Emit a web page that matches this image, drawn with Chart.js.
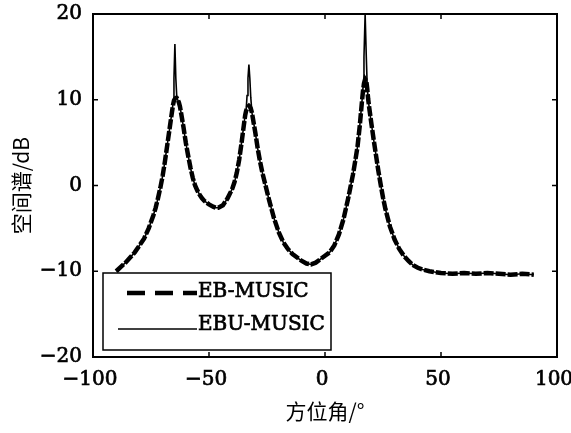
<!DOCTYPE html>
<html>
<head>
<meta charset="utf-8">
<script src="https://cdn.jsdelivr.net/npm/chart.js@4.4.1/dist/chart.umd.min.js"></script>
<style>
  html, body { margin: 0; padding: 0; background: #fff; }
  canvas { display: block; }
</style>
</head>
<body>
<canvas id="c" width="571" height="433"></canvas>
<script>
// Azimuth grid (degrees), denser around the three source directions
const angles = [
  -90, -88, -86, -84, -82, -80, -78, -76, -74, -73, -72, -71, -70, -69, -68, -67, -66,
  -65.5, -65.1, -64.7, -64.3, -63.9, -63.5, -63, -62.5, -62, -61, -60, -59, -58, -57,
  -56, -55, -54, -53, -52, -50, -48, -47, -46, -44, -42, -40, -39, -38, -37, -36, -35,
  -34.4, -34, -33.6, -33.2, -32.8, -32.4, -32, -31.5, -31, -30, -29, -28, -27, -26, -25,
  -24, -23, -22, -20, -18, -16, -14, -12, -10, -8, -6, -4, -2, 0, 2, 4, 6, 8, 10, 12,
  13, 14, 15, 15.5, 16, 16.4, 16.8, 17.3, 17.8, 18.2, 18.6, 19, 20, 21, 22, 23, 24, 25,
  26, 28, 30, 32, 34, 36, 38, 40, 42, 45, 50, 55, 60, 65, 70, 75, 80, 85, 90
];

// Spatial spectrum, EB-MUSIC (dB)
const ebMusic = [
  -10.0, -9.5, -9.0, -8.4, -7.8, -7.0, -6.2, -5.0, -3.5, -2.6, -1.5, -0.3, 1.1, 2.8, 4.7, 6.6, 8.5,
  9.4, 9.9, 10.1, 10.2, 10.2, 10.0, 9.7, 9.2, 8.4, 6.8, 5.0, 3.5, 2.1, 0.9,
  0.0, -0.6, -1.1, -1.5, -1.8, -2.2, -2.5, -2.6, -2.6, -2.3, -1.5, -0.4, 0.4, 1.5, 3.0, 4.9, 7.0,
  8.2, 8.7, 9.0, 9.2, 9.3, 9.2, 9.0, 8.5, 7.7, 6.1, 4.3, 2.8, 1.5, 0.4, -0.7,
  -1.8, -2.8, -3.8, -5.4, -6.6, -7.4, -8.0, -8.4, -8.8, -9.1, -9.2, -9.0, -8.6, -8.2, -7.8, -7.0, -5.7, -3.9, -1.5, 1.2,
  2.8, 4.5, 7.0, 8.5, 10.0, 11.1, 11.9, 12.4, 12.2, 11.3, 10.1, 9.2, 7.2, 5.3, 3.5, 1.7, 0.1, -1.4,
  -2.7, -4.8, -6.3, -7.4, -8.2, -8.8, -9.3, -9.6, -9.8, -10.0, -10.2, -10.3, -10.2, -10.3, -10.2, -10.3, -10.4, -10.3, -10.4
];

// Spatial spectrum, EBU-MUSIC (dB)
const ebuMusic = [
  -10.0, -9.5, -9.0, -8.4, -7.8, -7.0, -6.2, -5.0, -3.5, -2.6, -1.5, -0.3, 1.1, 2.8, 4.7, 6.6, 8.5,
  9.6, 12.5, 16.5, 12.5, 10.4, 10.0, 9.7, 9.2, 8.4, 6.8, 5.0, 3.5, 2.1, 0.9,
  0.0, -0.6, -1.1, -1.5, -1.8, -2.2, -2.5, -2.6, -2.6, -2.3, -1.5, -0.4, 0.4, 1.5, 3.0, 4.9, 7.0,
  8.2, 8.7, 10.5, 12.5, 14.1, 12.5, 10.3, 8.5, 7.7, 6.1, 4.3, 2.8, 1.5, 0.4, -0.7,
  -1.8, -2.8, -3.8, -5.4, -6.6, -7.4, -8.0, -8.4, -8.8, -9.1, -9.2, -9.0, -8.6, -8.2, -7.8, -7.0, -5.7, -3.9, -1.5, 1.2,
  2.8, 4.5, 7.0, 8.5, 10.0, 11.5, 15.0, 20.0, 15.0, 11.6, 10.1, 9.2, 7.2, 5.3, 3.5, 1.7, 0.1, -1.4,
  -2.7, -4.8, -6.3, -7.4, -8.2, -8.8, -9.3, -9.6, -9.8, -10.0, -10.2, -10.3, -10.2, -10.3, -10.2, -10.3, -10.4, -10.3, -10.4
];

const xTicks = [-100, -50, 0, 50, 100];
const yTicks = [-20, -10, 0, 10, 20];
const seriesNames = ['EB-MUSIC', 'EBU-MUSIC'];

const serif = "'DejaVu Serif', 'Liberation Serif', serif";
const cjk = "'Noto Sans CJK SC', 'Noto Sans', sans-serif";
const minus = v => String(v).replace('-', '\u2212');

// Box frame, inward tick marks on all four sides, and an inset legend
const boxPlugin = {
  id: 'boxFrame',
  afterDatasetsDraw(chart) {
    const { ctx, chartArea: a, scales: { x, y } } = chart;
    ctx.save();

    // legend
    const lx = a.left + 10, ly = a.bottom - 84, lw = 228, lh = 77;
    ctx.fillStyle = '#fff';
    ctx.fillRect(lx, ly, lw, lh);
    ctx.strokeStyle = '#000';
    ctx.lineWidth = 1.5;
    ctx.strokeRect(lx, ly, lw, lh);

    const ds = chart.data.datasets;
    const rows = [
      { x0: lx + 24, x1: lx + 94, y: ly + 20, ty: ly + 19, dash: [18, 10] },
      { x0: lx + 15, x1: lx + 94, y: ly + 56, ty: ly + 52, dash: [] }
    ];
    ctx.font = '20px ' + serif;
    ctx.textBaseline = 'middle';
    ctx.textAlign = 'left';
    rows.forEach((r, i) => {
      ctx.beginPath();
      ctx.setLineDash(r.dash);
      ctx.lineWidth = ds[i].borderWidth;
      ctx.strokeStyle = ds[i].borderColor;
      ctx.moveTo(r.x0, r.y);
      ctx.lineTo(r.x1, r.y);
      ctx.stroke();
      ctx.setLineDash([]);
      ctx.fillStyle = '#000';
      ctx.strokeStyle = '#000';
      ctx.lineWidth = 0.7;
      ctx.strokeText(ds[i].label, r.x1 + 1, r.ty);
      ctx.fillText(ds[i].label, r.x1 + 1, r.ty);
    });

    // inward ticks
    ctx.strokeStyle = '#000';
    ctx.lineWidth = 1.5;
    ctx.beginPath();
    xTicks.forEach(v => {
      const px = x.getPixelForValue(v);
      ctx.moveTo(px, a.bottom); ctx.lineTo(px, a.bottom - 5);
      ctx.moveTo(px, a.top); ctx.lineTo(px, a.top + 5);
    });
    yTicks.forEach(v => {
      const py = y.getPixelForValue(v);
      ctx.moveTo(a.left, py); ctx.lineTo(a.left + 5, py);
      ctx.moveTo(a.right, py); ctx.lineTo(a.right - 5, py);
    });
    ctx.stroke();

    // frame
    ctx.lineWidth = 2;
    ctx.strokeRect(a.left, a.top, a.right - a.left, a.bottom - a.top);
    ctx.restore();
  }
};

const tickFont = { family: serif, size: 20 };

new Chart(document.getElementById('c'), {
  type: 'line',
  data: {
    datasets: [
      {
        label: seriesNames[0],
        data: angles.map((a, i) => ({ x: a, y: ebMusic[i] })),
        borderColor: '#000',
        borderWidth: 4.5,
        borderDash: [10, 2],
        pointRadius: 0,
        tension: 0,
        fill: false
      },
      {
        label: seriesNames[1],
        data: angles.map((a, i) => ({ x: a, y: ebuMusic[i] })),
        borderColor: '#000',
        borderWidth: 1.6,
        pointRadius: 0,
        tension: 0,
        fill: false
      }
    ]
  },
  options: {
    responsive: false,
    animation: false,
    devicePixelRatio: 1,
    layout: { padding: { left: 0, right: 14, top: 14, bottom: 0 } },
    plugins: { legend: { display: false }, tooltip: { enabled: false } },
    scales: {
      x: {
        type: 'linear',
        min: -100,
        max: 100,
        afterBuildTicks: s => { s.ticks = xTicks.map(v => ({ value: v })); },
        afterFit: s => { s.height = 76; s.paddingLeft = 0; s.paddingRight = 0; },
        grid: { display: false, drawTicks: false },
        border: { display: false },
        ticks: {
          color: '#000',
          font: tickFont,
          textStrokeColor: '#000',
          textStrokeWidth: 0.7,
          padding: 11,
          labelOffset: -3,
          maxRotation: 0,
          callback: v => minus(v)
        },
        title: {
          display: true,
          text: '方位角/°',
          color: '#000',
          font: { family: cjk, size: 21 },
          padding: { top: 0, bottom: 9 }
        }
      },
      y: {
        type: 'linear',
        min: -20,
        max: 20,
        afterBuildTicks: s => { s.ticks = yTicks.map(v => ({ value: v })); },
        afterFit: s => { s.width = 93; s.paddingTop = 0; s.paddingBottom = 0; },
        grid: { display: false, drawTicks: false },
        border: { display: false },
        ticks: {
          color: '#000',
          font: tickFont,
          textStrokeColor: '#000',
          textStrokeWidth: 0.7,
          padding: 11,
          callback: v => minus(v)
        },
        title: {
          display: true,
          text: '空间谱/dB',
          color: '#000',
          font: { family: cjk, size: 21 },
          padding: { top: 8, bottom: 0 }
        }
      }
    }
  },
  plugins: [boxPlugin]
});
</script>
</body>
</html>
